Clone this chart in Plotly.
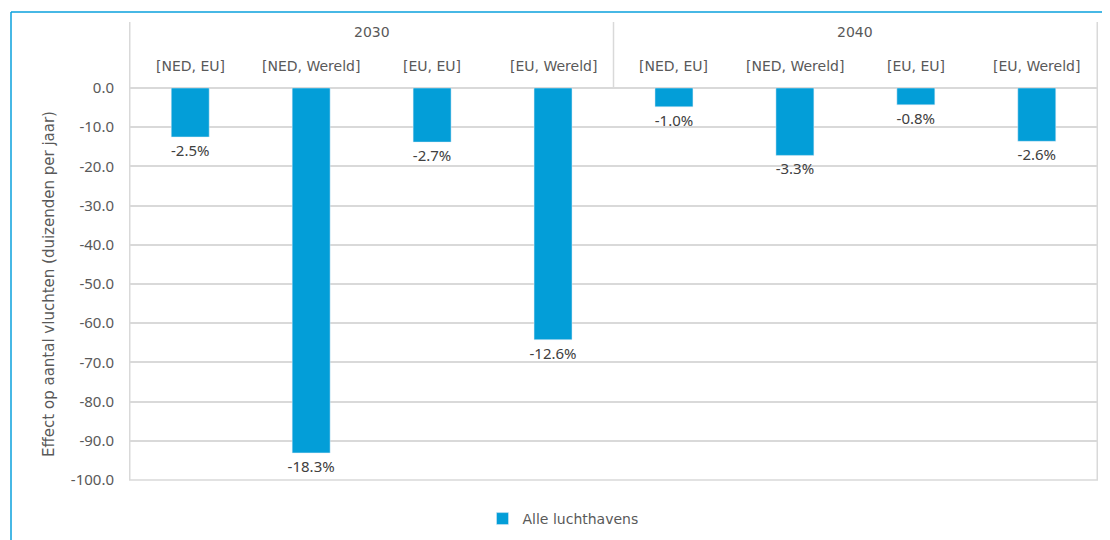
import plotly.graph_objects as go

years = ["2030", "2040"]
scenarios = ["[NED, EU]", "[NED, Wereld]", "[EU, EU]", "[EU, Wereld]"]
values_2030 = [-12.5, -93.1, -13.8, -64.2]
values_2040 = [-4.8, -17.2, -4.3, -13.6]
pct_2030 = ["-2.5%", "-18.3%", "-2.7%", "-12.6%"]
pct_2040 = ["-1.0%", "-3.3%", "-0.8%", "-2.6%"]
tick_values = [0, -10, -20, -30, -40, -50, -60, -70, -80, -90, -100]
tick_labels = ["0.0", "-10.0", "-20.0", "-30.0", "-40.0", "-50.0",
               "-60.0", "-70.0", "-80.0", "-90.0", "-100.0"]
series_name = "Alle luchthavens"
y_title = "Effect op aantal vluchten (duizenden per jaar)"

cats = [f"{y} {s}" for y in years for s in scenarios]
vals = values_2030 + values_2040
texts = pct_2030 + pct_2040

BLUE = "#039ED8"
GRAY_TXT = "#595959"
GRID = "#D9D9D9"
FONT = "Noto Sans"
FONT2 = "DejaVu Sans"

# page body has an 8px margin; screen coordinates are offset by it
OFF = 8
W, H = 1110 - OFF, 540 - OFF
ml, mt = 129 - OFF, 88 - OFF
mr = W - (1098 - OFF)
mb = H - (480 - OFF)
pw, ph = W - ml - mr, H - mt - mb

def sx(px):  # screen px -> paper x
    return (px - OFF - ml) / pw

def sy(py):  # screen px -> paper y
    return (H - mb - (py - OFF)) / ph

fig = go.Figure()
fig.add_trace(go.Bar(
    x=cats, y=vals, name=series_name, marker_color=BLUE,
    text=texts, textposition="outside", cliponaxis=False,
    constraintext="none",
    textfont=dict(family=FONT, size=15, color="#404040"),
    showlegend=True,
))

annotations = []
for i, c in enumerate(cats):
    annotations.append(dict(
        x=c, xref="x", y=sy(66), yref="paper",
        text=scenarios[i % 4], showarrow=False, yanchor="middle",
        font=dict(family=FONT2, size=14, color=GRAY_TXT)))
for j, yr in enumerate(years):
    annotations.append(dict(
        x=1.5 + 4 * j, xref="x", y=sy(32), yref="paper",
        text=yr, showarrow=False, yanchor="middle",
        font=dict(family=FONT2, size=14, color=GRAY_TXT)))

shapes = []
top_div = sy(22)
for xd in [-0.5, 3.5, 7.5]:
    shapes.append(dict(type="line", xref="x", yref="paper", x0=xd, x1=xd,
                       y0=0 if xd != 3.5 else 1, y1=top_div,
                       line=dict(color=GRID, width=1.5)))
shapes.append(dict(type="line", xref="paper", yref="paper", x0=0, x1=1,
                   y0=0, y1=0, line=dict(color=GRID, width=1.5)))
# outer frame
fx = sx(11)
fy = sy(12)
shapes.append(dict(type="line", xref="paper", yref="paper", x0=fx, x1=1.2,
                   y0=fy, y1=fy, line=dict(color="#0AA0DC", width=1.5)))
shapes.append(dict(type="line", xref="paper", yref="paper", x0=fx, x1=fx,
                   y0=fy, y1=-0.3, line=dict(color="#0AA0DC", width=1.5)))

fig.update_layout(
    width=W, height=H,
    margin=dict(l=ml, r=mr, t=mt, b=mb, autoexpand=False),
    paper_bgcolor="white", plot_bgcolor="white",
    bargap=0.686,
    font=dict(family=FONT, color=GRAY_TXT),
    xaxis=dict(showticklabels=False, showgrid=False, zeroline=False,
               showline=False, ticks="", fixedrange=True),
    yaxis=dict(range=[-100, 0], tickvals=tick_values, ticktext=tick_labels,
               showgrid=True, gridcolor=GRID, gridwidth=1.5,
               zeroline=True, zerolinecolor=GRID, zerolinewidth=1.5,
               showline=False, ticks="", ticklen=0, ticklabelstandoff=14,
               tickfont=dict(family=FONT, size=15, color=GRAY_TXT),
               title=dict(text=y_title, standoff=12,
                          font=dict(family=FONT2, size=15, color=GRAY_TXT))),
    legend=dict(orientation="h", x=sx(563), xanchor="center",
                y=sy(519), yanchor="middle",
                font=dict(family=FONT2, size=14, color=GRAY_TXT),
                itemwidth=30),
    annotations=annotations,
    shapes=shapes,
)

fig.write_html("out.html")
